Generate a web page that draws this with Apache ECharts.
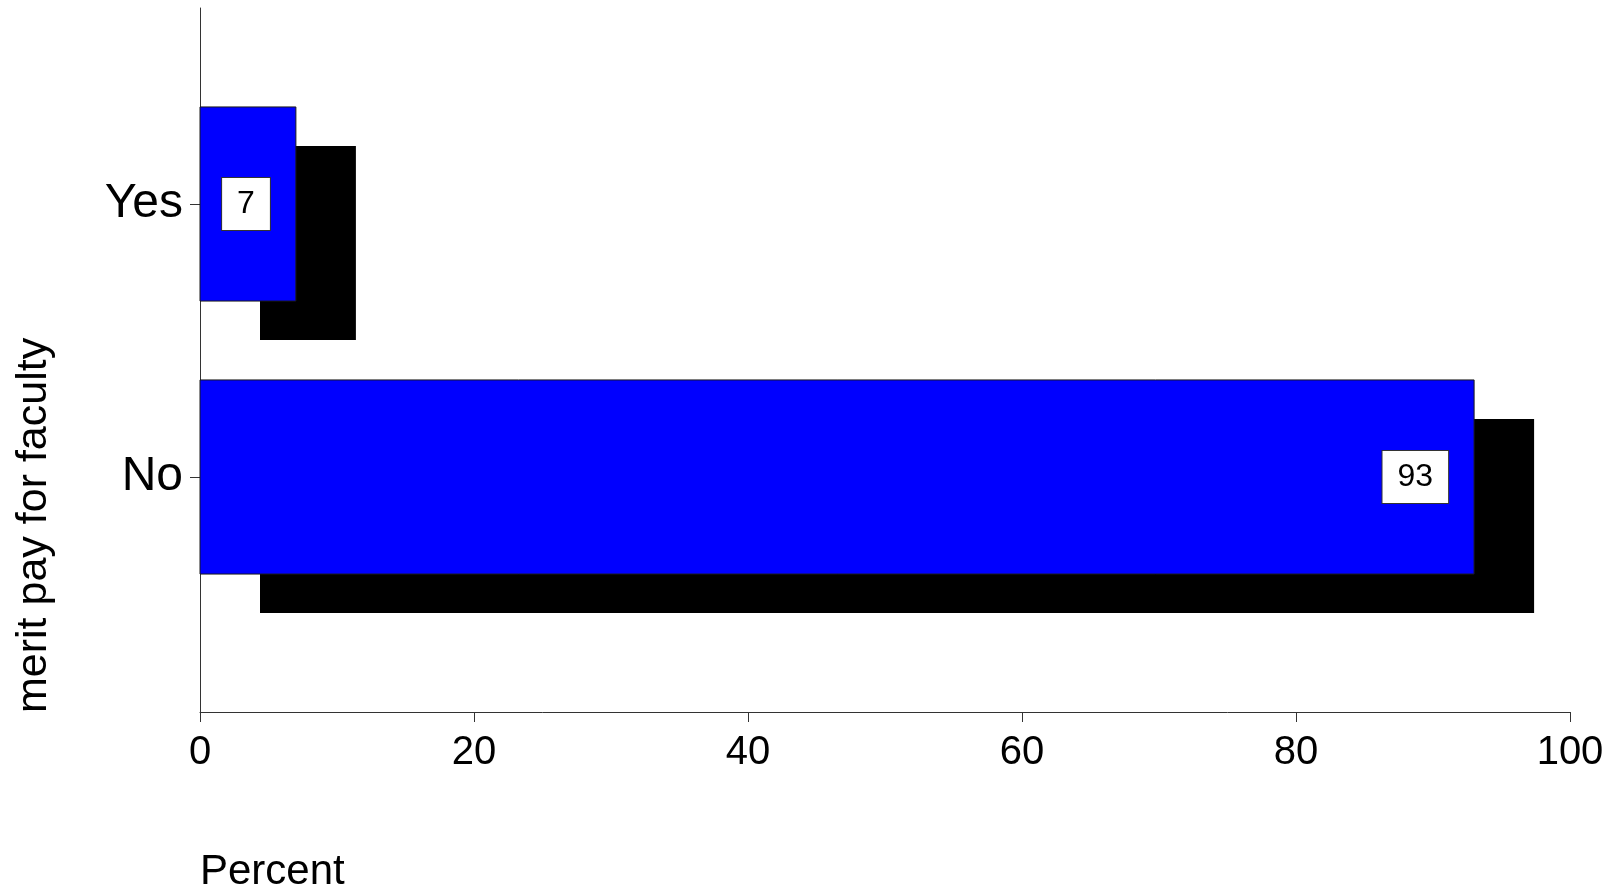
<!DOCTYPE html>
<html>
<head>
<meta charset="utf-8">
<script src="https://cdn.jsdelivr.net/npm/echarts@6/dist/echarts.min.js"></script>
<style>
html,body{margin:0;padding:0;background:#fff;}
#main{width:1617px;height:888px;}
</style>
</head>
<body>
<div id="main"></div>
<script>
const categories = ['No', 'Yes'];
const percents = [93, 7];
const xTickLabels = [0, 20, 40, 60, 80, 100];
const xTitle = 'Percent';
const yTitle = 'merit pay for faculty';

const FONT = '"Liberation Sans", Arial, sans-serif';
const chart = echarts.init(document.getElementById('main'), null, {renderer: 'canvas'});

const data = categories.map((c, i) => [percents[i], i]);

const option = {
  backgroundColor: '#ffffff',
  animation: false,
  grid: [
    {left: 200, right: 47, top: 8, bottom: 176},
    {left: 200, right: 47, top: 67.5, bottom: 274.5}
  ],
  xAxis: [
    {
      gridIndex: 0, type: 'value',
      min: xTickLabels[0], max: xTickLabels[xTickLabels.length - 1],
      interval: xTickLabels[1] - xTickLabels[0],
      axisLine: {show: true, lineStyle: {color: '#333', width: 1}},
      axisTick: {show: true, inside: false, length: 10, lineStyle: {color: '#333', width: 1}},
      axisLabel: {show: true, margin: 21, fontSize: 40, color: '#000', fontFamily: FONT},
      splitLine: {show: false}
    },
    {
      gridIndex: 1, type: 'value',
      min: xTickLabels[0], max: xTickLabels[xTickLabels.length - 1],
      show: false
    }
  ],
  yAxis: [
    {
      gridIndex: 0, type: 'value', min: 0, max: 1,
      axisLine: {show: true, lineStyle: {color: '#333', width: 1}},
      axisTick: {show: false}, axisLabel: {show: false}, splitLine: {show: false}
    },
    {
      gridIndex: 1, type: 'category', data: categories,
      axisLine: {show: false},
      axisTick: {show: true, alignWithLabel: true, length: 10, lineStyle: {color: '#333', width: 1}},
      axisLabel: {show: true, margin: 17, fontSize: 48, color: '#000', fontFamily: FONT},
      splitLine: {show: false}
    }
  ],
  graphic: [
    {
      type: 'text', x: 200, y: 872,
      style: {text: xTitle, font: '42px ' + FONT, fill: '#000', align: 'left', verticalAlign: 'middle'}
    },
    {
      type: 'text', x: 34, y: 713, rotation: Math.PI / 2,
      style: {text: yTitle, font: '43px ' + FONT, fill: '#000', align: 'left', verticalAlign: 'middle'}
    }
  ],
  series: [
    {
      type: 'custom',
      xAxisIndex: 1, yAxisIndex: 1,
      data: data,
      encode: {x: 0, y: 1},
      renderItem: function (params, api) {
        const v = api.value(0);
        const c = api.value(1);
        const start = api.coord([0, c]);
        const end = api.coord([v, c]);
        const band = api.size([0, 1])[1];
        const h = band * 0.711;
        const x0 = start[0], x1 = end[0], yc = start[1];
        return {
          type: 'group',
          children: [
            {type: 'rect', shape: {x: x0 + 60, y: yc - h / 2 + 39, width: x1 - x0, height: h}, style: {fill: '#000000'}},
            {type: 'rect', shape: {x: x0, y: yc - h / 2, width: x1 - x0, height: h}, style: {fill: '#0000ff', stroke: '#1a1a1a', lineWidth: 1}},
            {type: 'text', x: x1 - 26, y: yc, style: {
              text: String(v), font: '32px ' + FONT, fill: '#000',
              align: 'right', verticalAlign: 'middle',
              backgroundColor: '#ffffff', borderColor: '#333', borderWidth: 1, padding: [10, 15]
            }}
          ]
        };
      }
    }
  ]
};
chart.setOption(option);
</script>
</body>
</html>
